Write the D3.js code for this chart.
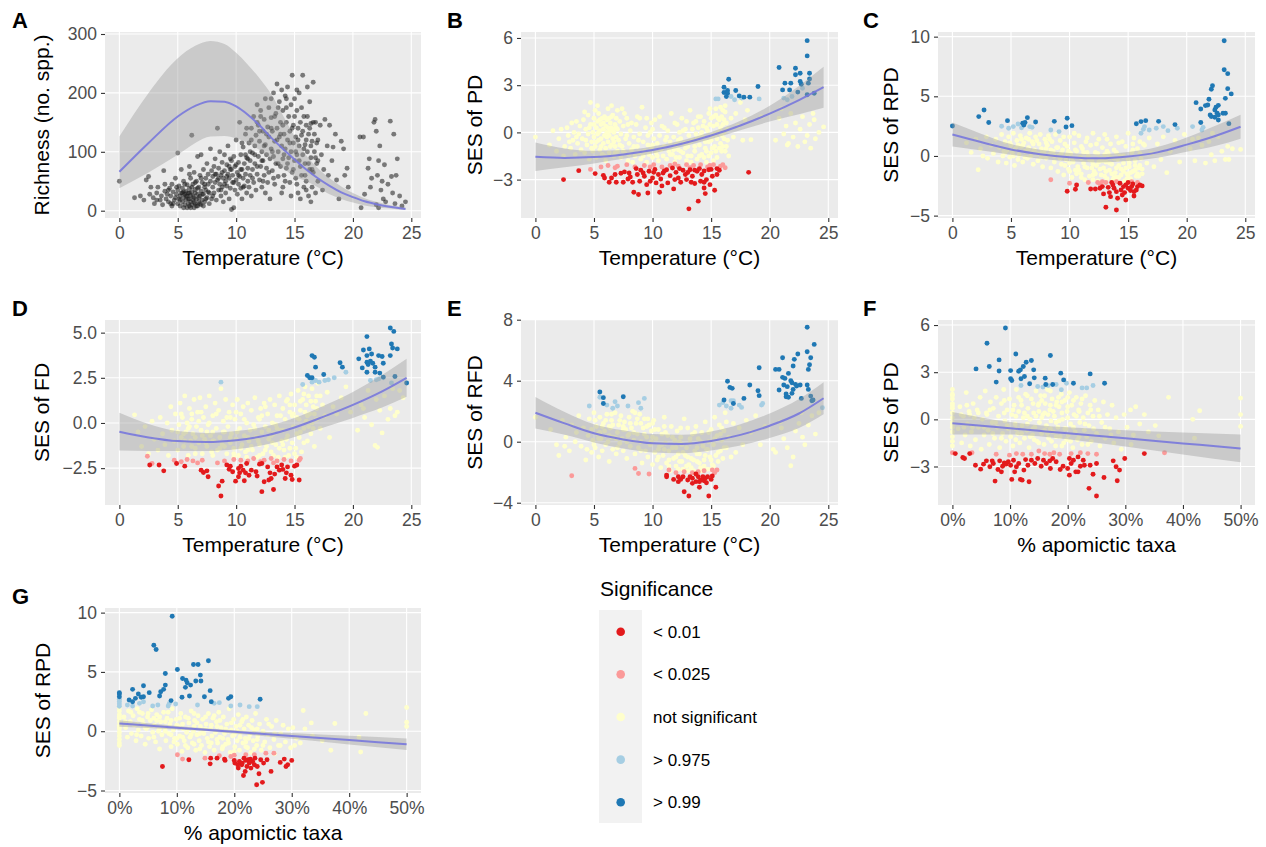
<!DOCTYPE html>
<html>
<head>
<meta charset="utf-8">
<script src="https://cdn.jsdelivr.net/npm/d3@7"></script>
<style>
  body { margin: 0; background: #fff; }
  text { font-family: "Liberation Sans", Arial, Helvetica, sans-serif; }
</style>
</head>
<body>
<div id="chart"></div>
<script>
// ---------- data ----------
const tempTicks = [0, 5, 10, 15, 20, 25];
const pctTicks = [0, 10, 20, 30, 40, 50];
const sigLabels = ["< 0.01", "< 0.025", "not significant", "> 0.975", "> 0.99"];

// A: richness vs temperature
const richA = [[0,50],[1.3,22],[1.8,25],[2.1,18],[2.3,52],[2.5,58],[2.6,28],[2.9,22],[3.0,12],[3.2,30],[3.3,40],[3.5,18],[3.6,25],[3.7,10],[3.8,68],[3.9,33],
[4.0,20],[4.1,28],[4.2,15],[4.3,38],[4.4,25],[4.5,8],[4.5,45],[4.6,32],[4.7,18],[4.8,22],[4.8,55],[4.9,28],[5.0,12],[5.0,35],[5.0,98],[5.1,20],[5.1,42],[5.2,25],[5.2,8],[5.3,30],[5.3,70],
[5.4,15],[5.4,38],[5.5,22],[5.5,50],[5.6,10],[5.6,28],[5.7,18],[5.7,33],[5.8,5],[5.8,25],[5.8,44],[5.9,12],[5.9,30],[6.0,20],[6.0,8],[6.0,38],[6.0,75],[6.1,15],[6.1,26],[6.1,55],[6.2,10],[6.2,32],[6.2,128],[6.3,18],[6.3,45],[6.4,5],[6.4,22],[6.4,65],[6.5,12],[6.5,30],[6.5,36],[6.6,20],[6.6,50],[6.7,8],[6.7,28],[6.7,92],[6.8,15],[6.8,40],[6.9,25],[6.9,60],[7.0,10],[7.0,33],[7.0,95],
[7.1,18],[7.1,48],[7.2,28],[7.2,70],[7.3,40],[7.3,15],[7.4,55],[7.4,35],[7.5,22],[7.5,80],[7.6,45],[7.6,62],[7.7,30],[7.8,50],[7.8,105],[7.9,20],[7.9,68],[8.0,40],[8.0,58],[8.1,75],[8.1,30],[8.2,48],[8.2,88],[8.3,62],[8.3,18],[8.4,140],[8.4,52],[8.5,35],[8.5,72],[8.6,45],[8.6,100],[8.7,60],[8.7,25],[8.8,82],[8.8,40],[8.9,55],[8.9,15],[9.0,68],[9.0,95],
[9.1,30],[9.1,50],[9.2,78],[9.2,42],[9.3,62],[9.3,110],[9.4,20],[9.4,55],[9.5,88],[9.5,38],[9.6,70],[9.6,2],[9.7,48],[9.7,60],[9.8,5],[9.8,92],[9.9,35],[9.9,75],[10.0,52],[10.0,120],[10.1,65],[10.1,28],[10.2,82],[10.2,45],[10.3,58],[10.3,150],[10.4,38],[10.4,95],[10.5,70],[10.5,20],[10.6,55],[10.6,108],[10.7,42],[10.7,80],[10.8,62],[10.8,130],[10.9,30],[10.9,90],[11.0,50],[11.0,72],
[11.1,115],[11.1,40],[11.2,85],[11.2,60],[11.3,140],[11.3,25],[11.4,98],[11.4,70],[11.5,48],[11.5,160],[11.6,80],[11.6,110],[11.7,35],[11.7,128],[11.8,62],[11.8,180],[11.9,92],[11.9,145],[12.0,52],[12.0,118],[12.1,75],[12.1,170],[12.2,100],[12.2,40],[12.3,135],[12.3,85],[12.4,155],[12.4,60],[12.5,112],[12.5,190],[12.6,95],[12.6,72],[12.7,142],[12.7,48],[12.8,125],[12.8,175],[12.9,88],[12.9,20],[13.0,105],[13.0,158],
[13.1,68],[13.1,135],[13.2,200],[13.2,92],[13.3,118],[13.3,45],[13.4,165],[13.4,80],[13.5,140],[13.5,215],[13.6,100],[13.6,58],[13.7,125],[13.7,185],[13.8,75],[13.8,150],[13.9,110],[13.9,205],[14.0,88],[14.0,170],[14.0,40],[14.1,130],[14.1,60],[14.2,195],[14.2,105],[14.3,150],[14.3,72],[14.4,120],[14.4,210],[14.5,90],[14.5,160],[14.6,48],[14.6,135],[14.7,180],[14.7,100],[14.8,65],[14.8,230],[14.9,145],[14.9,115],[15.0,85],[15.0,190],
[15.1,55],[15.1,125],[15.2,170],[15.2,95],[15.3,140],[15.3,30],[15.4,110],[15.4,200],[15.5,75],[15.5,150],[15.6,60],[15.6,128],[15.7,230],[15.7,95],[15.8,40],[15.8,160],[15.9,112],[15.9,80],[16.0,145],[16.0,50],[16.1,210],[16.1,100],[16.2,130],[16.2,25],[16.3,70],[16.3,185],[16.4,148],[16.4,90],[16.5,118],[16.5,40],[16.6,218],[16.6,65],[16.7,100],[16.8,150],[16.8,30],[16.9,80],[17.0,120],[17.0,50],
[17.2,145],[17.3,95],[17.4,35],[17.5,70],[17.6,155],[17.8,110],[17.9,60],[18.0,145],[18.2,85],[18.3,108],[18.5,130],[18.6,52],[18.8,20],[19.0,118],[19.2,105],[19.3,60],[19.5,72],[19.6,40],
[20.6,125],[20.7,5],[20.9,125],[21.0,28],[21.3,72],[21.4,88],[21.5,40],[21.6,55],[21.8,150],[21.9,155],[22.0,10],[22.0,135],[22.1,60],[22.2,85],[22.2,5],[22.3,110],[22.4,35],[22.5,50],[22.6,20],[22.7,78],[22.8,15],[23.0,45],[23.2,152],[23.3,58],[23.4,30],[23.5,130],[23.6,12],[23.7,60],[23.8,88],[24.0,25],[24.2,8],[24.5,15],
[4.2,35],[4.6,12],[4.9,40],[5.2,18],[5.4,30],[5.5,5],[5.6,45],[5.7,25],[5.9,20],[6.0,30],[6.1,5],[6.2,40],[6.3,25],[6.4,14],[6.5,48],[6.6,8],[6.7,38],[6.8,22],[6.9,12],[7.0,55],[7.1,28],[7.2,8],[7.4,20],[7.6,32],[7.7,12],[8.0,25],[8.2,62],[8.5,55],[8.8,65],[9.0,45],[9.2,58],[9.4,75],[9.6,85],[9.8,48],[10.0,78],[10.2,60],[10.4,70],[10.6,40],[10.8,95],[11.0,88],[11.2,100],[11.4,55],[11.6,95],[11.8,75],[12.0,135],[12.2,85],[12.4,110],[12.6,130],[12.8,65],[13.0,140],[13.1,100],[13.3,160],[13.5,120],[13.6,80],[13.8,130],[14.0,145],[14.1,95],[14.3,175],[14.4,80],[14.6,115],[14.8,140],[14.9,70],[15.0,160],[15.1,100],[15.3,120],[15.4,85],[15.6,175],[15.7,135],[15.8,105],[15.9,60],[16.0,120],[16.1,160],[16.2,80],[16.3,140],[16.4,110],[16.5,70],[16.6,150],[16.7,130],[16.8,90],[16.9,115],[17.0,85],[13.2,55],[14.2,50],[15.2,45],[16.0,35],[12.3,50],[13.9,30],[15.5,20],[16.4,15],[14.7,25],[12.5,30],[11.3,120],[10.9,140],[12.1,160],[13.6,175],[14.3,190],[15.2,205],[13.0,190],[11.8,150],[10.5,115],[9.5,70],[8.7,35],[7.3,45],[6.0,62],[5.5,32],[4.4,12],[3.9,45],[3.2,18],[2.7,40]];
// smooth rows: [x, fit, lower, upper]
const smoothA = [[0,66,38,126],[2.5,115,65,200],[5,160,95,259],[6.5,178,115,280],[7.8,186,126,288],[9,185,127,283],[10,177,123,268],[11,163,115,248],[12,145,103,225],[13,124,88,198],[14,105,73,162],[15,87,58,126],[16,70,50,94],[17,55,40,72],[18,42,28,55],[19,31,20,41],[20,23,14,30],[21,16,9,21],[22,11,6,15],[23,7,4,10],[24.5,3,1,6]];

// B: SES of PD vs temperature
const nsB = [[0,-0.3],[1.2,-0.8],[1.5,0.1],[1.8,-1.2],[2.0,-0.4],[2.2,0.2],[2.4,-1.5],[2.5,-0.9],[2.7,0.3],[2.8,-0.2],[3.0,-1.0],[3.1,0.6],[3.2,-0.5],[3.3,0.0],[3.4,-1.4],[3.5,0.7],[3.6,-0.7],[3.7,-0.1],[3.8,0.4],[3.9,-1.1],
[4.0,-0.4],[4.1,0.8],[4.2,-1.3],[4.3,0.2],[4.4,-0.8],[4.5,1.1],[4.5,-0.1],[4.6,-1.7],[4.7,0.5],[4.7,1.9],[4.8,-0.6],[4.9,0.0],[4.9,-1.2],[5.0,0.9],[5.0,-0.3],[5.1,1.4],[5.1,-0.9],[5.2,0.3],[5.2,-1.6],[5.3,-0.1],[5.3,0.7],[5.4,-0.5],[5.4,1.2],[5.5,0.1],[5.5,-1.1],[5.6,0.5],[5.6,-0.4],[5.7,-1.4],[5.7,0.9],[5.8,0.2],[5.8,-0.7],[5.9,1.0],[5.9,-0.2],[6.0,-1.0],[6.0,0.4],[6.0,-1.8],[6.1,0.0],[6.1,0.8],[6.2,-0.6],[6.2,1.5],[6.3,-0.2],[6.3,-1.3],[6.4,0.6],[6.4,0.1],[6.5,-0.8],[6.5,0.3],[6.6,-0.4],[6.6,1.1],[6.7,-1.5],[6.7,0.0],[6.8,0.5],[6.8,-0.9],[6.9,-0.3],[6.9,0.9],[7.0,-1.2],[7.0,0.2],
[7.1,-0.5],[7.2,0.7],[7.3,-1.6],[7.3,-0.1],[7.4,-0.9],[7.5,0.4],[7.6,-1.3],[7.7,-0.4],[7.8,0.9],[7.9,-1.8],[8.0,-0.7],[8.1,0.1],[8.2,-1.1],[8.3,-1.9],[8.4,-0.3],[8.5,-1.5],[8.6,0.5],[8.7,-0.9],[8.8,-1.3],[8.9,-0.1],[9.0,-1.7],[9.1,1.6],[9.2,-0.6],[9.3,-1.2],[9.4,0.3],[9.5,-1.9],[9.6,-0.8],[9.7,-1.4],[9.8,0.0],[9.9,-1.0],[10.0,-1.6],[10.1,-0.4],[10.2,0.8],[10.3,-1.3],[10.4,-0.7],[10.5,-1.8],[10.6,-0.2],[10.7,-1.1],[10.8,0.4],[10.9,-1.5],[11.0,-0.9],[11.1,-0.5],[11.2,-1.7],[11.3,0.1],[11.4,-1.2],[11.5,-0.6],[11.6,1.2],[11.7,-1.4],[11.8,-0.3],[11.9,-1.9],[12.0,-0.8],
[12.1,0.5],[12.2,-1.1],[12.3,-1.6],[12.4,-0.4],[12.5,0.9],[12.6,-1.3],[12.7,-0.7],[12.8,0.2],[12.9,-1.8],[13.0,-0.9],[13.1,-0.2],[13.2,1.4],[13.3,-1.5],[13.4,-0.5],[13.5,0.6],[13.6,-1.2],[13.7,-0.1],[13.8,-1.7],[13.9,0.3],[14.0,-0.8],[14.1,1.0],[14.2,-1.4],[14.3,-0.3],[14.4,0.7],[14.5,-1.0],[14.6,-1.9],[14.7,0.1],[14.8,-0.6],[14.9,1.5],[15.0,-1.3],[15.1,-0.2],[15.2,0.4],[15.3,-0.9],[15.4,1.1],[15.5,-1.6],[15.6,0.0],[15.7,0.8],[15.8,-0.7],[15.9,-1.2],[16.0,0.5],[16.1,-0.4],[16.2,1.3],[16.3,-0.9],[16.4,0.2],[16.5,-1.5],[15.2,-1.8],[14.4,-1.6],[13.3,-1.9],[15.8,1.6],[16.2,1.7],
[14.6,0.3],[15.0,0.9],[15.5,0.5],[15.9,1.0],[16.1,0.0],[14.2,0.0],[13.7,0.7],[12.3,0.0],[11.0,0.3],[10.0,0.2],[9.5,0.9],[8.7,1.0],[8.2,0.6],[7.6,1.2],[7.0,1.4],
[16.7,0.9],[16.9,-0.3],[17.1,1.2],[17.3,0.4],[17.5,1.9],[17.7,-0.5],[17.9,0.8],[18.1,1.4],[18.4,-0.46],[19.3,1.0],
[20.5,-0.5],[20.8,0.9],[21.0,1.5],[21.2,-0.1],[21.4,0.4],[21.6,-0.7],[21.8,1.2],[22.0,-0.3],[22.2,0.6],[22.4,-0.9],[22.6,0.2],[22.8,1.0],[23.0,-0.6],[23.2,-0.2],[23.4,0.5],[23.5,-1.0],[23.7,1.2],[23.9,-0.4],[24.2,0.0],[24.6,0.35],[23.8,0.8],[21.5,-0.8],
[4.3,-0.5],[4.6,0.3],[4.8,-1.0],[5.0,0.5],[5.2,-0.6],[5.4,0.0],[5.5,0.8],[5.6,-0.9],[5.8,0.6],[5.9,-1.5],[6.0,0.9],[6.1,-0.3],[6.2,0.3],[6.3,0.9],[6.4,-0.9],[6.5,1.0],[6.6,0.2],[6.7,-0.6],[6.8,-1.3],[6.9,0.3],[7.2,-0.8],[7.5,-1.2],[7.8,-0.2],[8.0,-1.4],[8.4,-0.9],[8.8,-0.5],[9.2,-1.5],[9.6,-0.2],[10.0,-0.8],[10.4,-1.5],[10.8,-1.0],[11.2,-0.3],[11.5,-1.4],[11.8,-1.1],[12.0,-1.6],[12.2,-0.5],[12.4,-1.2],[12.6,0.1],[12.8,-1.0],[13.0,-1.5],[13.2,-0.6],[13.4,0.2],[13.6,-0.9],[13.8,-0.4],[14.0,-1.5],[14.1,-0.2],[14.3,0.4],[14.5,-0.6],[14.6,-1.2],[14.8,-1.5],[14.9,0.5],[15.0,-0.5],[15.1,-1.0],[15.2,1.0],[15.3,-0.1],[15.4,-1.2],[15.5,-0.4],[15.6,0.9],[15.7,-1.0],[15.8,0.3],[15.9,-0.2],[16.0,-0.9],[16.1,0.8],[16.2,-1.2],[16.3,0.6],[16.4,-0.5],[16.0,1.4],[15.4,1.5],[14.8,1.2],[13.9,1.0],[12.9,0.7],[11.9,0.6],[10.6,1.0],[9.9,0.6],[8.9,0.9],[7.9,0.5],[7.4,1.5],[6.5,1.7],[5.3,1.7],[4.2,1.3],[3.5,-0.3],[2.9,-0.6]];
const p025B = [[4.7,-2.35],[5.6,-2.2],[6.2,-2.1],[7.0,-2.15],[7.8,-2.05],[8.5,-2.2],[9.3,-2.1],[10.1,-2.05],[10.8,-2.2],[11.5,-2.1],[12.2,-2.15],[12.9,-2.05],[13.5,-2.1],[14.1,-2.05],[14.7,-2.2],[15.2,-2.05],[15.8,-2.15],[16.2,-2.25],[6.8,-2.25],[9.8,-2.2],[11.9,-2.0],[13.2,-2.25],[14.9,-2.1],[16.0,-2.05]];
const p01B = [[2.4,-3.0],[3.7,-2.43],[5.1,-2.62],[5.8,-2.73],[5.9,-2.9],[6.5,-2.9],[6.8,-2.68],[6.9,-3.17],[7.5,-3.17],[7.6,-2.51],[8.0,-2.58],[8.1,-2.83],[8.4,-3.8],[8.7,-2.68],[8.8,-3.95],[8.9,-3.1],[9.2,-2.58],[9.3,-2.79],[9.5,-3.32],[9.6,-3.85],[9.7,-2.47],[9.8,-3.1],[10.0,-2.9],[10.1,-2.54],[10.3,-3.21],[10.5,-2.68],[10.6,-3.8],[10.7,-2.96],[10.9,-2.58],[11.2,-2.37],[11.3,-3.21],[11.5,-2.75],[11.7,-2.26],[11.8,-3.59],[12.0,-2.54],[12.2,-2.9],[12.4,-3.17],[12.6,-2.41],[12.8,-2.68],[12.9,-3.0],[13.1,-4.86],[13.2,-2.37],[13.4,-2.79],[13.6,-3.25],[13.8,-2.47],[13.9,-4.37],[14.1,-3.1],[14.2,-2.68],[14.4,-3.53],[14.5,-3.89],[14.6,-3.0],[14.8,-2.37],[14.9,-3.32],[15.1,-2.79],[15.3,-3.68],[15.5,-2.68],[15.7,-2.41],[18.2,-2.54],[7.9,-2.96],[8.3,-3.17],[10.8,-3.4],[11.9,-3.0],[13.3,-3.17],[14.4,-3.17],[6.3,-3.17],
[10.2,-2.35],[11.0,-2.45],[12.3,-2.3],[13.0,-2.55],[13.6,-2.4],[14.0,-2.3],[14.4,-2.45],[15.0,-2.35],[15.5,-2.3],[9.0,-2.4],[8.6,-2.3],[7.3,-2.6]];
const p975B = [[15.4,2.13],[15.6,2.13],[16.7,2.28],[17.0,2.07],[17.6,2.18],[19.1,2.13],[21.5,2.07],[21.9,2.28],[21.2,2.18],[22.8,2.81]];
const p99B = [[23.2,5.83],[23.2,4.86],[20.8,4.12],[22.2,4.08],[22.6,3.76],[23.4,3.76],[21.3,3.13],[21.8,3.13],[22.6,3.23],[22.2,3.66],[23.4,3.4],[21.1,2.7],[21.7,2.7],[22.7,3.06],[22.4,2.56],[23.2,2.39],[23.8,2.49],[23.3,3.13],[16.5,3.38],[16.1,2.87],[16.4,2.66],[16.1,2.54],[16.3,2.28],[17.1,2.66],[17.4,2.32],[17.8,2.24],[18.3,2.24],[19.0,2.92],[16.4,2.49]];
const smoothB = [[0,-1.55,-2.45,-0.65],[2.5,-1.62,-2.22,-1.02],[5,-1.57,-1.97,-1.17],[7.5,-1.4,-1.68,-1.12],[10,-1.12,-1.34,-0.9],[12.5,-0.72,-0.92,-0.52],[15,-0.2,-0.42,0.02],[17.5,0.44,0.14,0.74],[20,1.19,0.69,1.69],[22.5,2.05,1.15,2.95],[24.6,2.87,1.57,4.17]];

// C: SES of RPD vs temperature
const nsC = [[1.2,1.1],[1.6,0.3],[2.0,1.4],[2.2,-1.15],[2.4,0.6],[2.6,0.0],[2.9,1.6],[3.0,-0.2],[3.3,0.9],[3.5,0.2],[3.7,1.4],[3.9,-0.5],[4.0,0.7],[4.2,1.8],[4.3,0.0],[4.5,1.2],[4.6,-0.6],[4.7,0.5],[4.8,1.6],[4.9,-0.1],[5.0,0.9],[5.1,0.3],[5.2,1.9],[5.3,-0.8],[5.4,0.6],[5.5,1.3],[5.6,-0.3],[5.7,0.1],[5.8,1.7],[5.9,0.8],[6.0,-0.5],[6.1,1.1],[6.2,0.4],[6.3,1.5],[6.4,-0.2],[6.5,0.7],[6.6,1.9],[6.7,0.0],[6.8,1.2],[6.9,-0.7],[7.0,0.5],[7.1,1.6],[7.2,0.2],[7.3,-0.4],[7.4,1.0],[7.5,1.8],[7.6,0.6],[7.7,-0.9],[7.8,0.3],[7.9,1.4],[8.0,-0.2],[8.1,0.9],[8.2,1.7],[8.3,0.1],[8.4,-1.0],[8.5,1.2],[8.6,0.4],[8.7,-0.5],[8.8,1.8],[8.9,0.7],[9.0,-1.3],[9.1,0.0],[9.2,1.3],[9.3,-0.7],[9.4,0.5],[9.5,-1.6],[9.6,1.0],[9.7,-0.3],[9.8,0.8],[9.9,-1.1],[10.0,1.6],[10.1,0.2],[10.2,-1.8],[10.3,-0.5],[10.4,1.1],[10.5,-1.2],[10.6,0.4],[10.7,-0.9],[10.8,1.7],[10.9,-0.1],[11.0,-1.5],[11.1,0.6],[11.2,-0.6],[11.3,-2.0],[11.4,1.2],[11.5,-1.0],[11.6,0.0],[11.7,-1.7],[11.8,0.9],[11.9,-0.4],[12.0,1.9],[12.1,-1.3],[12.2,0.3],[12.3,-0.8],[12.4,-2.1],[12.5,1.4],[12.6,-0.2],[12.7,-1.6],[12.8,0.7],[12.9,-1.0],[13.0,1.8],[13.1,-0.5],[13.2,-1.9],[13.3,0.2],[13.4,-1.2],[13.5,1.0],[13.6,-0.7],[13.7,-2.0],[13.8,0.5],[13.9,-1.4],[14.0,1.6],[14.1,-0.3],[14.2,-1.8],[14.3,0.0],[14.4,-1.1],[14.5,1.2],[14.6,-0.6],[14.7,-2.1],[14.8,0.8],[14.9,-1.5],[15.0,1.9],[15.1,-0.9],[15.2,-1.9],[15.3,0.3],[15.4,-1.3],[15.5,1.5],[15.6,-0.4],[15.7,-1.7],[15.8,0.6],[15.9,-1.0],[16.0,1.2],[16.1,-0.2],[16.2,-1.5],[16.4,0.9],[16.6,-0.6],[16.8,1.5],[17.0,0.2],[17.2,-0.9],[17.5,1.0],[17.8,-0.3],[18.0,1.6],[18.3,-1.4],[18.6,0.4],[19.0,1.3],[19.4,-0.5],[19.8,1.8],[20.3,0.6],[20.7,-0.4],[21.0,1.5],[21.3,0.9],[21.6,-0.6],[21.9,1.2],[22.1,0.1],[22.4,-0.4],[22.7,1.6],[23.0,0.4],[23.3,-0.3],[23.5,0.8],[23.6,-0.3],[23.9,0.6],[24.6,0.55],[22.2,1.9],[20.5,1.4],
[5.3,0.5],[6.0,0.9],[6.8,0.3],[7.6,-0.1],[8.4,0.5],[9.2,-0.2],[10.0,-0.6],[10.6,-1.5],[11.2,0.3],[11.9,-1.0],[12.5,-0.5],[13.1,-1.3],[13.5,-0.1],[14.0,-1.0],[14.6,-1.3],[15.1,-0.6],[15.6,-1.2],[16.0,-0.8],[12.0,-1.6],[13.8,-1.8],[14.9,-1.9],[15.9,-1.7],[11.0,-0.2],[9.8,0.1],[8.0,1.1],[6.5,1.4],[4.4,0.4],
[4.5,0.3],[4.9,1.1],[5.2,0.0],[5.6,0.9],[5.9,1.4],[6.2,-0.1],[6.5,0.6],[6.9,1.0],[7.2,1.3],[7.6,0.2],[8.0,0.6],[8.3,1.4],[8.7,0.0],[9.0,0.7],[9.3,0.2],[9.6,-0.8],[9.9,0.4],[10.2,-0.2],[10.5,0.5],[10.8,-1.2],[11.0,0.8],[11.3,-0.9],[11.5,0.3],[11.7,-0.3],[12.0,-0.7],[12.2,-1.5],[12.4,0.2],[12.6,-1.1],[12.8,-0.4],[13.0,-1.7],[13.2,0.4],[13.4,-0.6],[13.6,-1.5],[13.8,-0.2],[14.0,0.3],[14.2,-0.8],[14.4,-1.6],[14.6,0.0],[14.8,-1.0],[15.0,-0.3],[15.2,-1.4],[15.4,0.5],[15.6,-0.8],[15.8,-1.5],[16.0,0.2],[16.2,-1.1],[16.3,1.0],[15.4,1.0],[14.2,1.1],[13.2,1.4],[12.3,1.0],[11.5,1.5],[10.4,1.9],[9.5,1.6],[13.0,0.1],[14.0,-1.8],[15.0,-1.6],[12.0,-2.0],[11.0,-1.8],[10.0,-1.3]];
const p025C = [[8.4,-2.0],[10.0,-2.29],[11.6,-2.23],[12.4,-2.23],[12.6,-2.35],[12.8,-2.15],[13.1,-2.23],[14.0,-2.15],[15.3,-2.15],[15.8,-2.23]];
const p01C = [[9.8,-2.96],[10.5,-2.79],[10.6,-2.43],[11.8,-2.77],[12.2,-2.77],[12.6,-2.71],[12.8,-2.57],[13.1,-4.3],[13.5,-3.41],[14.0,-4.53],[14.1,-3.55],[14.8,-3.69],[15.5,-3.35],
[13.7,-2.43],[13.8,-2.71],[14.3,-2.29],[14.4,-2.85],[14.6,-2.57],[14.7,-3.07],[14.8,-2.43],[15.0,-2.71],[15.2,-2.9],[15.3,-2.57],[15.5,-2.99],[15.7,-2.85],[15.8,-2.57],[14.0,-2.99],[13.3,-2.63],[13.6,-2.23],[14.5,-3.27],[15.0,-2.23],[15.4,-2.35],[16.0,-2.43],[16.2,-2.51],[13.4,-3.07],[12.9,-3.18]];
const p975C = [[4.2,2.49],[4.8,2.32],[5.2,2.46],[5.6,2.68],[5.9,2.37],[6.6,2.46],[6.8,2.4],[8.4,2.18],[9.1,2.04],[16.1,1.9],[16.3,2.23],[16.4,2.46],[16.8,2.18],[17.4,2.32],[18.0,2.46],[18.4,2.12],[19.2,2.32],[20.5,2.46],[21.3,2.18],[21.4,2.4]];
const p99C = [[0,2.51],[2.25,3.3],[2.7,3.85],[3.1,2.8],[4.7,2.96],[6.0,2.74],[6.1,2.6],[6.2,2.8],[6.4,3.21],[7.1,2.85],[8.7,2.9],[9.7,2.43],[9.8,3.16],[10.2,2.54],[15.7,2.7],[16.1,2.88],[16.5,2.96],[17.6,2.9],[19.0,2.63],[20.8,4.47],[21.2,3.94],[21.2,2.8],[21.6,4.22],[21.8,4.27],[21.9,4.75],[22.0,3.44],[22.1,3.3],[22.1,5.59],[22.2,5.89],[22.4,3.85],[22.5,4.08],[22.6,3.58],[22.7,4.24],[22.7,3.02],[22.7,3.44],[23.2,9.66],[23.2,7.23],[23.5,6.9],[23.3,4.83],[23.3,3.58],[23.5,5.64],[23.8,5.2],[23.6,2.71],[23.1,3.58],[22.4,3.24]];
const smoothC = [[0,1.8,0.8,2.8],[2.5,1.15,0.45,1.85],[5,0.55,0.1,1.0],[7.5,0.15,-0.23,0.53],[10,-0.1,-0.45,0.25],[12.5,-0.2,-0.55,0.15],[15,-0.05,-0.43,0.33],[17.5,0.3,-0.15,0.75],[20,0.95,0.35,1.55],[22.5,1.7,0.85,2.55],[24.6,2.45,1.45,3.45]];

// D: SES of FD vs temperature
const nsD = [[1.3,0.45],[1.6,-0.5],[1.9,-1.3],[2.2,-0.2],[2.5,-1.7],[2.8,0.1],[3.0,-0.9],[3.3,-1.5],[3.5,0.3],[3.7,-0.6],[3.9,-1.2],[4.1,0.0],[4.2,-1.8],[4.4,0.9],[4.5,-0.4],[4.7,-1.0],[4.8,0.5],[5.0,-1.5],[5.1,-0.1],[5.2,1.1],[5.3,-0.8],[5.4,0.3],[5.5,-1.3],[5.6,1.5],[5.7,-0.5],[5.8,0.0],[5.9,-1.8],[6.0,0.8],[6.1,-1.0],[6.2,0.2],[6.3,-0.6],[6.4,1.3],[6.5,-1.4],[6.6,-0.2],[6.7,0.6],[6.8,-1.1],[6.9,1.4],[7.0,-0.4],[7.1,-1.7],[7.2,0.3],[7.3,-0.9],[7.4,0.9],[7.5,-1.3],[7.6,-0.1],[7.7,1.5],[7.8,-0.7],[7.9,-1.6],[8.0,0.4],[8.1,-1.0],[8.2,1.1],[8.3,-0.3],[8.4,-1.5],[8.5,0.7],[8.6,-0.8],[8.7,1.9],[8.8,-1.2],[8.9,0.1],[9.0,-0.5],[9.1,1.3],[9.2,-1.7],[9.3,-0.2],[9.4,0.6],[9.5,-1.1],[9.6,-0.6],[9.7,1.0],[9.8,-1.4],[9.9,0.2],[10.0,-0.9],[10.1,1.3],[10.2,-1.8],[10.3,-0.3],[10.4,0.5],[10.5,-1.2],[10.6,0.9],[10.7,-0.7],[10.8,-1.6],[10.9,0.0],[11.0,1.1],[11.1,-1.0],[11.2,-0.4],[11.3,0.7],[11.4,-1.5],[11.5,-0.1],[11.6,1.4],[11.7,-0.8],[11.8,-1.9],[11.9,0.3],[12.0,-1.2],[12.1,0.8],[12.2,-0.5],[12.3,-1.7],[12.4,1.1],[12.5,-0.2],[12.6,-1.3],[12.7,0.5],[12.8,-0.9],[12.9,1.3],[13.0,-1.6],[13.1,0.0],[13.2,-0.6],[13.3,1.0],[13.4,-1.2],[13.5,0.4],[13.6,-1.9],[13.7,1.5],[13.8,-0.4],[13.9,-1.0],[14.0,0.8],[14.1,-1.5],[14.2,0.2],[14.3,1.2],[14.4,-0.7],[14.5,-1.8],[14.6,0.6],[14.7,1.6],[14.8,-1.1],[14.9,-0.2],[15.0,1.0],[15.1,-1.4],[15.2,0.3],[15.3,1.8],[15.4,-0.8],[15.5,0.7],[15.6,-1.6],[15.7,1.3],[15.8,-0.3],[15.9,2.0],[16.0,0.1],[16.1,-1.0],[16.2,1.5],[16.3,0.5],[16.4,-0.6],[16.5,1.9],[16.6,0.9],[16.7,-1.3],[16.8,1.2],[16.9,0.2],[17.0,2.2],[17.2,-0.3],[17.4,1.0],[17.6,0.4],[17.8,1.7],[18.0,-0.8],[18.3,0.9],[18.6,0.5],[19.0,1.4],[19.4,2.0],[19.8,0.6],[20.4,-0.4],[20.7,1.0],[21.0,0.3],[21.3,1.8],[21.6,-0.1],[21.9,-1.25],[22.1,-1.35],[22.3,0.7],[22.5,-0.55],[22.7,1.5],[23.0,0.2],[23.2,0.8],[23.4,1.9],[23.6,0.4],[23.8,0.6],[24.0,1.8],[24.3,1.4],[22.0,1.3],[20.9,0.8],
[5.5,-0.6],[6.2,-1.3],[7.0,0.6],[8.0,-0.5],[9.0,-1.3],[10.0,0.6],[11.0,-1.5],[12.0,0.2],[13.0,-0.7],[14.0,-1.2],[14.8,0.4],[15.5,-0.5],[16.0,1.0],[16.6,-0.3],[15.2,-1.9],[13.5,-0.3],[12.5,0.9],[9.5,0.3],[7.5,-0.5],[6.0,-0.2],[15.9,0.6],[16.9,1.5],[14.4,1.3],
[5.0,-0.5],[5.3,0.5],[5.6,-1.0],[5.9,-0.3],[6.2,0.5],[6.5,-0.8],[6.8,0.1],[7.1,-0.7],[7.4,-1.1],[7.7,0.0],[8.0,-1.0],[8.3,0.5],[8.6,-1.4],[8.9,-0.5],[9.2,0.3],[9.5,-0.8],[9.8,-1.7],[10.1,-0.5],[10.4,-1.4],[10.7,0.2],[11.0,-0.8],[11.3,-1.3],[11.6,-0.3],[11.9,-1.0],[12.2,0.4],[12.5,-1.5],[12.8,-0.4],[13.1,-1.1],[13.4,-0.1],[13.7,-1.4],[14.0,-0.4],[14.3,-0.9],[14.6,-1.4],[14.9,0.5],[15.2,-0.6],[15.5,1.2],[15.8,-1.1],[16.1,0.4],[16.4,1.2],[16.7,0.5],[15.0,-1.7],[14.2,-1.9],[13.2,-1.8],[12.0,-1.8],[10.9,-1.9],[9.8,-1.9],[8.0,-1.8],[6.5,-1.7],[16.2,-0.2],[15.4,0.2],[14.6,1.0],[13.8,0.4],[16.9,0.8],[17.2,1.5],[15.8,1.6],[16.5,0.0]];
const p025D = [[2.4,-1.84],[2.8,-2.24],[4.7,-2.06],[5.3,-2.15],[5.8,-2.02],[6.3,-2.1],[6.7,-2.21],[7.1,-2.06],[8.4,-2.21],[9.0,-2.1],[9.8,-2.02],[11.0,-2.1],[11.5,-1.97],[12.4,-2.06],[13.0,-1.97],[13.5,-2.1],[14.1,-2.02],[14.7,-2.1],[15.4,-2.06],[15.5,-1.97],[12.1,-2.15],[13.2,-2.21],[10.4,-2.06]];
const p01D = [[2.6,-2.33],[3.4,-2.33],[3.8,-2.65],[4.9,-2.24],[5.6,-2.39],[7.2,-2.74],[7.5,-2.65],[7.6,-2.98],[8.5,-3.49],[8.8,-3.22],[8.7,-4.04],[9.2,-2.32],[9.4,-2.56],[9.5,-2.39],[9.7,-2.7],[9.95,-3.22],[10.2,-2.52],[10.3,-2.76],[10.4,-2.39],[10.6,-2.61],[10.7,-3.2],[10.9,-2.24],[11.1,-2.89],[11.7,-2.7],[11.8,-2.94],[12.0,-2.28],[12.2,-2.24],[12.2,-3.8],[12.4,-3.25],[12.7,-2.43],[12.8,-3.16],[13.0,-3.07],[13.2,-3.68],[13.3,-2.83],[13.5,-2.43],[13.7,-2.61],[13.9,-2.33],[14.0,-2.57],[14.2,-3.07],[14.3,-2.76],[14.4,-2.43],[14.7,-2.89],[14.8,-3.13],[15.0,-2.39],[15.2,-2.33],[15.4,-3.16],[7.0,-2.61],[11.3,-2.61],[12.9,-2.76],[10.2,-2.98],[10.8,-2.76]];
const p975D = [[8.7,2.26],[15.7,2.13],[16.5,2.26],[16.8,2.35],[17.1,2.26],[17.6,2.35],[17.9,2.39],[18.4,2.5],[19.4,2.81],[21.5,2.35],[22.0,2.39],[22.2,2.44],[23.3,2.21],[22.6,2.5]];
const p99D = [[23.2,5.26],[23.5,5.07],[21.2,4.78],[20.9,4.04],[21.4,4.1],[23.3,4.37],[23.4,4.15],[23.8,4.1],[20.5,3.55],[21.2,3.73],[21.6,3.82],[22.2,3.73],[22.5,3.68],[20.8,3.05],[21.2,3.36],[21.3,3.24],[21.5,3.42],[21.7,3.31],[21.9,3.09],[22.6,3.31],[21.2,2.81],[21.9,2.81],[22.3,2.76],[23.2,3.73],[23.6,2.57],[24.6,2.21],[18.9,3.33],[19.1,3.09],[16.5,3.73],[16.7,3.64],[16.8,3.09],[16.1,2.63],[16.3,2.5],[16.5,2.5],[17.5,2.68],[22.6,2.54]];
const smoothD = [[0,-0.48,-1.53,0.57],[2.5,-0.8,-1.55,-0.05],[5,-1.0,-1.55,-0.45],[7.5,-1.05,-1.55,-0.55],[10,-0.95,-1.45,-0.45],[12.5,-0.7,-1.2,-0.2],[15,-0.25,-0.77,0.27],[17.5,0.35,-0.25,0.95],[20,1.0,0.28,1.72],[22.5,1.75,0.85,2.65],[24.6,2.5,1.45,3.55]];

// E: SES of RFD vs temperature
const nsE = [[0,1.6],[1.3,0.8],[1.8,-0.2],[2.0,-0.9],[2.3,1.4],[2.6,0.3],[2.9,-0.6],[3.1,1.1],[3.4,0.0],[3.7,1.7],[3.9,-0.3],[4.1,0.9],[4.3,-1.2],[4.5,0.4],[4.6,1.5],[4.8,-0.7],[4.9,0.1],[5.0,1.9],[5.1,-0.4],[5.2,1.0],[5.3,0.5],[5.4,-1.0],[5.5,1.6],[5.6,0.2],[5.7,-0.6],[5.8,1.2],[5.9,0.7],[6.0,-0.2],[6.1,1.8],[6.2,0.0],[6.3,-1.3],[6.4,0.9],[6.5,1.4],[6.6,-0.5],[6.7,0.3],[6.8,1.9],[6.9,-0.8],[7.0,0.6],[7.1,1.1],[7.2,-0.1],[7.3,1.7],[7.4,0.2],[7.5,-0.6],[7.6,1.3],[7.7,0.8],[7.8,-1.1],[7.9,0.4],[8.0,1.6],[8.1,-0.3],[8.2,0.9],[8.3,2.0],[8.4,0.1],[8.5,-0.8],[8.6,1.2],[8.7,0.5],[8.8,-0.4],[8.9,1.8],[9.0,0.0],[9.1,-1.4],[9.2,0.9],[9.3,1.5],[9.4,-0.6],[9.5,0.3],[9.6,-1.0],[9.7,1.1],[9.8,-0.2],[9.9,0.7],[10.0,-1.5],[10.1,1.4],[10.2,-0.7],[10.3,0.2],[10.4,-1.2],[10.5,0.8],[10.6,-0.3],[10.7,-1.7],[10.8,0.5],[10.9,-0.9],[11.0,1.6],[11.1,-0.1],[11.2,-1.4],[11.3,0.4],[11.4,-0.6],[11.5,-1.9],[11.6,1.0],[11.7,-0.4],[11.8,-1.1],[11.9,0.1],[12.0,-1.6],[12.1,0.7],[12.2,-0.8],[12.3,-1.3],[12.4,0.3],[12.5,-0.2],[12.6,-1.8],[12.7,1.5],[12.8,-0.9],[12.9,-0.4],[13.0,0.9],[13.1,-1.5],[13.2,-0.1],[13.3,-1.1],[13.4,0.5],[13.5,-1.9],[13.6,-0.6],[13.7,1.0],[13.8,-1.3],[13.9,0.2],[14.0,-0.8],[14.1,-1.7],[14.2,0.6],[14.3,-0.3],[14.4,-1.2],[14.5,1.3],[14.6,-0.5],[14.7,-1.8],[14.8,0.0],[14.9,-1.0],[15.0,0.8],[15.1,-1.5],[15.2,-0.2],[15.3,1.6],[15.4,-0.9],[15.5,0.4],[15.6,-1.3],[15.7,1.1],[15.8,-0.6],[15.9,0.1],[16.0,-1.1],[16.1,0.7],[16.2,1.9],[16.3,-0.4],[16.5,0.3],[16.7,-1.0],[16.9,1.2],[17.1,-0.7],[17.4,0.9],[17.7,-0.2],[18.0,1.4],[18.4,0.6],[18.8,1.7],[19.2,-0.2],[19.6,1.0],[20.3,-0.5],[20.5,-0.7],[20.9,1.3],[21.2,0.2],[21.5,-0.4],[21.8,-1.58],[22.0,-1.0],[22.2,0.7],[22.5,1.2],[22.8,0.3],[23.0,-0.2],[23.3,1.1],[23.6,1.7],[23.9,0.5],[24.2,1.9],[22.7,1.9],[21.0,0.9],
[5.5,0.6],[6.3,1.0],[7.0,-0.4],[8.0,0.5],[9.0,1.2],[10.0,0.3],[11.0,-0.5],[12.0,-0.4],[13.0,-1.0],[13.8,-0.4],[14.5,-0.9],[15.2,-1.6],[15.8,0.5],[12.5,-1.3],[11.4,-1.2],[10.5,-0.5],[9.5,1.0],[7.5,0.8],[6.5,0.3],[14.0,-1.4],[13.3,-1.7],
[4.8,0.8],[5.1,1.4],[5.4,0.2],[5.7,1.0],[6.0,1.4],[6.3,0.4],[6.6,1.1],[6.9,0.2],[7.2,1.4],[7.5,1.0],[7.8,0.0],[8.1,1.2],[8.4,0.6],[8.7,1.5],[9.0,-0.6],[9.3,0.5],[9.6,1.5],[9.9,0.0],[10.2,0.8],[10.5,-1.0],[10.8,-0.2],[11.1,0.6],[11.4,-1.6],[11.7,0.3],[12.0,-1.0],[12.3,0.0],[12.6,-0.7],[12.9,-1.6],[13.2,0.2],[13.5,-1.2],[13.8,-0.8],[14.1,0.0],[14.4,-1.6],[14.7,-0.5],[15.0,-1.2],[15.3,0.2],[15.6,-0.7],[15.9,0.9],[16.1,-0.4],[16.3,1.3],[15.0,-1.8],[14.2,-1.9],[13.0,-1.9],[12.2,-1.8],[14.8,0.6],[13.6,0.6],[12.4,0.9],[11.0,1.0],[10.0,1.2],[8.5,1.9],[6.5,1.8],[5.0,-0.2],[4.4,-0.5],[3.5,0.6],[2.5,-0.3]];
const p025E = [[3.1,-2.23],[8.5,-1.75],[8.8,-2.08],[9.7,-2.12],[11.4,-1.86],[12.0,-2.03],[12.7,-1.97],[13.4,-2.03],[13.9,-1.97],[14.4,-1.9],[15.1,-1.86],[15.5,-1.86],[15.3,-2.03]];
const p01E = [[11.2,-2.19],[11.8,-2.47],[12.2,-2.62],[12.7,-3.28],[13.1,-3.56],[12.6,-2.3],[13.0,-2.51],[13.4,-2.4],[13.7,-2.62],[13.9,-2.3],[14.1,-2.51],[14.0,-2.99],[14.4,-2.56],[14.5,-2.4],[14.6,-2.69],[14.8,-3.56],[15.0,-2.47],[15.1,-2.25],[15.4,-2.99],[12.2,-2.3],[12.4,-2.47],[13.2,-2.3],[13.7,-2.12],[14.3,-2.3],[14.7,-2.3],[14.0,-2.62],[13.4,-2.73],[11.2,-2.3]];
const p975E = [[4.6,2.34],[5.5,2.91],[6.1,2.4],[6.6,2.19],[6.8,2.62],[7.0,2.34],[7.9,2.34],[8.8,2.56],[9.0,2.19],[9.3,2.84],[15.7,2.4],[16.0,2.56],[16.3,2.34],[16.7,2.19],[16.9,2.69],[17.4,2.4],[17.6,2.25],[19.3,2.4],[19.4,2.51],[24.5,2.23],[16.7,2.69]];
const p99E = [[23.2,7.5],[23.8,6.38],[23.2,5.9],[22.4,5.75],[23.5,5.5],[23.4,5.05],[22.1,5.4],[22.0,4.96],[21.1,5.5],[23.3,4.74],[20.5,4.74],[20.8,4.74],[19.1,4.85],[21.6,4.48],[21.1,4.22],[21.3,4.15],[21.8,4.0],[21.9,3.87],[22.2,3.76],[22.3,3.65],[21.2,3.72],[21.5,3.61],[22.6,3.72],[23.2,3.72],[23.3,3.43],[22.0,3.43],[20.8,3.39],[21.4,2.95],[21.6,2.91],[21.9,3.17],[22.7,2.84],[23.5,2.99],[23.6,2.69],[23.7,2.73],[21.4,3.13],[16.4,3.96],[16.6,3.56],[16.8,3.5],[18.3,3.72],[19.0,3.34],[19.1,3.02],[16.1,2.73],[17.8,2.84],[16.9,2.51],[5.5,3.26],[5.8,2.89],[7.5,2.95],[5.8,2.51]];
const smoothE = [[0,1.9,0.87,2.93],[2.5,1.2,0.45,1.95],[5,0.55,-0.05,1.15],[7.5,0.15,-0.45,0.75],[10,-0.1,-0.7,0.5],[12.5,-0.15,-0.75,0.45],[15,0.05,-0.57,0.67],[17.5,0.45,-0.25,1.15],[20,1.05,0.25,1.85],[22.5,1.85,0.9,2.8],[24.6,2.85,1.8,3.9]];

// F: SES of PD vs % apomictic taxa
const nsF = [[0,1.9],[0,1.6],[0,1.3],[0,1.0],[0,0.7],[0,0.4],[0,0.1],[0,-0.2],[0,-0.5],[0,-0.8],[0,-1.1],[0,-1.4],[0,-1.7],[0,1.5],[0,-0.35],[0,0.85],
[1.0,-0.6],[1.3,0.8],[1.6,-1.5],[1.9,0.2],[2.2,-1.0],[2.4,1.7],[2.6,-0.3],[2.9,0.5],[3.1,-1.7],[3.3,-0.8],[3.6,1.0],[3.8,0.1],[4.0,-1.3],[4.3,0.6],[4.5,-0.5],[4.8,1.4],[5.0,-1.9],[5.2,0.0],[5.5,-1.0],[5.7,1.8],[5.9,0.4],[6.2,-0.7],[6.4,-1.6],[6.6,1.1],[6.9,-0.2],[7.1,0.7],[7.3,-1.2],[7.6,1.4],[7.8,-0.5],[8.0,0.2],[8.2,-1.8],[8.5,1.0],[8.7,-0.9],[8.9,1.9],[9.1,-0.1],[9.3,-1.4],[9.5,0.6],[9.7,-0.6],[9.9,1.3],[10.1,-1.1],[10.3,0.3],[10.5,-1.7],[10.7,0.9],[10.9,-0.3],[11.1,1.9],[11.3,-0.9],[11.5,0.5],[11.7,-1.5],[11.9,1.2],[12.1,-0.4],[12.3,0.1],[12.5,-1.2],[12.7,1.6],[12.9,-0.7],[13.1,0.7],[13.3,-1.8],[13.5,0.0],[13.7,1.3],[13.9,-1.0],[14.1,0.4],[14.3,-0.5],[14.5,1.8],[14.7,-1.4],[14.9,0.9],[15.1,-0.2],[15.3,1.5],[15.5,-0.9],[15.7,0.3],[15.9,-1.6],[16.1,1.0],[16.3,-0.4],[16.5,1.9],[16.7,-1.2],[16.9,0.6],[17.1,-0.1],[17.3,1.3],[17.5,-0.8],[17.7,0.2],[17.9,-1.7],[18.1,1.1],[18.3,-0.5],[18.5,0.8],[18.7,-1.1],[18.9,1.6],[19.1,0.0],[19.3,-1.5],[19.5,1.2],[19.7,-0.6],[19.9,0.5],[20.1,-1.0],[20.3,1.7],[20.5,-0.3],[20.7,0.9],[20.9,-1.8],[21.1,0.3],[21.3,-0.8],[21.5,1.4],[21.7,-1.3],[21.9,0.6],[22.1,-0.2],[22.3,1.0],[22.5,-1.6],[22.7,0.1],[22.9,-0.7],[23.1,1.5],[23.3,-1.1],[23.5,0.4],[23.7,-0.4],[23.9,0.9],[24.1,-1.4],[24.4,0.2],[24.7,1.2],[25.0,-0.9],[25.3,0.6],[25.6,-1.7],[25.9,-0.2],[26.2,1.1],[26.5,-1.2],[26.9,0.3],[27.3,-0.6],[27.7,0.9],[28.0,-1.5],[28.4,0.1],[28.8,-0.8],[29.3,-1.9],[29.8,0.3],[30.3,-0.5],[30.9,0.6],[31.4,-1.0],[31.8,0.8],[32.5,-0.3],[33.3,0.3],[34.0,-0.8],[35.2,-0.4],[35.8,-1.05],[37.5,1.4],[41.7,0.0],[42.0,-1.2],[42.9,0.55],[50,1.35],[50,0.3],[50,-0.45],[31.0,-1.6],
[12.0,0.9],[13.0,-0.3],[14.0,1.0],[15.0,0.5],[16.0,-0.7],[17.0,0.9],[18.0,-0.2],[19.0,0.4],[20.0,0.8],[21.0,-0.5],[22.0,0.5],[15.5,0.1],[16.6,0.3],[18.4,1.4],[14.2,-1.3],[17.2,-1.4],[19.8,-1.3],[11.0,0.2],[9.0,0.4],[7.0,-0.9],[6.0,0.3],[3.0,0.3],[2.0,-0.5],
[1.5,0.3],[2.5,0.9],[3.5,-0.5],[4.5,0.4],[5.5,-0.5],[6.5,0.6],[7.5,-0.2],[8.5,-1.2],[9.5,-0.4],[10.5,0.6],[11.0,-1.3],[11.5,1.4],[12.0,-0.9],[12.5,0.4],[13.0,1.5],[13.5,-1.1],[14.0,-0.6],[14.5,0.2],[15.0,-1.5],[15.5,1.2],[16.0,0.4],[16.5,-0.9],[17.0,1.8],[17.5,0.5],[18.0,-1.1],[18.5,-0.1],[19.0,1.1],[19.5,-0.6],[20.0,0.1],[20.5,-1.4],[21.0,1.2],[21.5,0.2],[22.0,-1.1],[22.5,1.3],[23.0,-0.3],[23.5,-1.6],[24.0,0.6],[24.5,-0.6],[25.5,0.2],[26.5,-0.5],[27.5,-1.0],[19.0,-1.7],[17.0,-0.6],[15.0,1.0],[13.0,0.2],[11.0,-0.6],[9.0,1.2],[18.0,0.9],[20.0,1.4],[16.0,1.5]];
const p025F = [[0,-2.13],[3.4,-2.13],[7.6,-2.22],[9.9,-2.28],[11.1,-2.18],[12.2,-2.22],[15.0,-2.01],[16.0,-2.18],[17.6,-2.13],[18.6,-2.22],[20.6,-2.18],[22.2,-2.13],[23.5,-2.18],[25.0,-2.22],[36.8,-2.13],[13.7,-2.22],[16.9,-2.22]];
const p01F = [[0.5,-2.18],[1.8,-2.43],[2.1,-2.49],[3.0,-2.18],[4.0,-2.92],[4.9,-3.17],[5.4,-2.85],[5.9,-2.64],[6.5,-3.02],[6.9,-2.64],[7.1,-2.81],[7.4,-3.93],[7.9,-3.19],[8.2,-2.64],[8.5,-3.34],[8.7,-2.98],[9.0,-2.77],[9.3,-2.85],[9.7,-2.7],[10.1,-2.92],[10.3,-3.82],[10.6,-2.6],[10.8,-3.34],[11.1,-3.02],[11.5,-2.81],[11.8,-3.82],[12.1,-3.87],[12.4,-3.23],[12.7,-2.56],[13.1,-2.92],[13.3,-3.97],[13.7,-2.6],[14.3,-2.81],[14.8,-2.49],[15.4,-2.98],[15.8,-2.6],[16.3,-2.81],[16.9,-2.64],[17.0,-3.13],[17.4,-2.49],[18.0,-2.7],[18.7,-3.19],[19.2,-2.98],[20.0,-3.13],[20.3,-3.55],[20.6,-2.81],[21.0,-2.6],[21.4,-3.34],[21.8,-3.34],[22.2,-2.98],[22.7,-2.6],[22.9,-2.92],[23.7,-4.39],[23.9,-2.92],[24.4,-3.49],[25.0,-4.88],[25.0,-2.81],[26.3,-3.7],[27.9,-2.64],[28.4,-3.02],[28.6,-3.91],[29.0,-3.23],[29.9,-2.49],[33.3,-2.18],[21.8,-2.39],[20.3,-2.49]];
const p975F = [[11.9,2.15],[14.8,2.09],[16.6,2.15],[18.9,1.88],[19.8,2.3],[22.5,2.0],[23.3,2.0],[24.4,2.15],[18.0,2.22],[15.7,2.05]];
const p99F = [[9.2,5.81],[6.0,4.84],[11.0,4.16],[17.0,4.06],[8.1,3.78],[13.7,3.74],[12.8,3.63],[4.1,3.21],[6.4,3.36],[12.3,3.36],[8.1,3.08],[10.1,3.1],[11.5,3.06],[11.8,3.15],[14.1,3.15],[18.8,2.94],[23.9,2.89],[10.1,2.58],[11.9,2.58],[12.5,2.73],[14.2,2.64],[16.1,2.62],[19.3,2.51],[7.6,2.37],[10.3,2.47],[13.4,2.26],[16.2,2.22],[17.4,2.22],[21.0,2.3],[26.4,2.3]];
const smoothF = [[0,-0.25,-0.97,0.47],[10,-0.57,-0.97,-0.17],[15,-0.73,-1.08,-0.38],[20,-0.89,-1.27,-0.51],[30,-1.21,-1.73,-0.69],[40,-1.53,-2.23,-0.83],[50,-1.85,-2.73,-0.97]];

// G: SES of RPD vs % apomictic taxa
const nsG = [[0,2.0],[0,1.7],[0,1.4],[0,1.1],[0,0.8],[0,0.5],[0,0.2],[0,-0.1],[0,-0.4],[0,-0.7],[0,-1.0],[0,-1.2],[0,1.25],[0,0.35],
[0.8,1.2],[1.1,0.3],[1.4,-0.5],[1.6,1.7],[1.9,0.8],[2.1,-0.2],[2.4,1.3],[2.6,0.5],[2.9,-0.8],[3.1,1.9],[3.3,0.1],[3.5,1.0],[3.8,-0.4],[4.0,1.5],[4.2,0.6],[4.5,-1.1],[4.7,0.2],[4.9,1.2],[5.1,-0.6],[5.4,0.9],[5.6,1.8],[5.8,-0.1],[6.1,0.5],[6.3,-0.9],[6.5,1.4],[6.8,0.0],[7.0,-1.5],[7.2,0.8],[7.4,-0.3],[7.7,1.6],[7.9,0.3],[8.1,-0.8],[8.3,1.1],[8.6,-0.2],[8.8,0.6],[9.0,-1.3],[9.2,1.9],[9.4,0.1],[9.6,-0.6],[9.9,1.0],[10.1,-1.1],[10.3,0.4],[10.5,-0.4],[10.7,1.5],[10.9,-1.7],[11.1,0.2],[11.3,-0.8],[11.5,1.2],[11.7,-0.1],[11.9,-1.4],[12.1,0.7],[12.3,-0.5],[12.5,1.7],[12.7,-1.0],[12.9,0.0],[13.1,0.9],[13.3,-1.6],[13.5,-0.3],[13.7,1.3],[13.9,-0.8],[14.1,0.4],[14.3,-1.2],[14.5,1.0],[14.7,-0.2],[14.9,-1.8],[15.1,0.6],[15.3,-0.6],[15.5,1.5],[15.7,-1.3],[15.9,0.2],[16.1,-0.4],[16.3,1.1],[16.5,-1.6],[16.7,-0.1],[16.9,0.8],[17.1,-1.0],[17.3,1.6],[17.5,-0.5],[17.7,0.3],[17.9,-1.5],[18.1,1.2],[18.3,-0.2],[18.5,-1.1],[18.7,0.6],[18.9,-0.7],[19.1,1.9],[19.3,-1.8],[19.5,0.1],[19.7,-0.4],[19.9,1.0],[20.1,-1.3],[20.3,0.4],[20.5,-0.8],[20.7,1.4],[20.9,-1.6],[21.1,-0.1],[21.3,0.8],[21.5,-1.0],[21.7,0.2],[21.9,-0.6],[22.1,1.2],[22.3,-1.4],[22.5,0.5],[22.7,-0.3],[22.9,-1.8],[23.1,0.9],[23.3,-0.8],[23.5,0.1],[23.7,1.5],[23.9,-1.2],[24.1,-0.4],[24.4,0.6],[24.7,-1.6],[25.0,0.0],[25.3,-0.9],[25.6,1.0],[25.9,-0.3],[26.2,-1.4],[26.5,0.4],[26.9,-0.7],[27.3,0.9],[27.7,-1.2],[28.1,-0.2],[28.5,0.5],[28.9,-0.9],[29.4,0.2],[29.8,-1.4],[30.2,0.3],[30.8,-0.6],[31.5,-1.0],[32.0,1.75],[32.3,0.2],[33.4,0.7],[33.6,-0.4],[35.3,-0.8],[36.8,-1.6],[37.5,0.65],[41.7,-0.5],[42.0,-1.75],[42.9,1.5],[50,2.0],[50,0.75],[50,0.4],[30.5,-1.2],[27.0,-1.9],
[3.0,0.6],[5.0,0.4],[6.0,1.1],[8.0,0.8],[10.0,0.5],[11.0,-0.5],[13.0,0.4],[14.0,-0.2],[15.0,0.2],[16.0,-1.0],[17.0,0.4],[18.0,-0.6],[19.0,0.0],[20.0,-0.3],[21.0,0.5],[22.0,-0.9],[24.0,-0.7],[12.0,0.2],[9.0,-0.3],[7.0,0.2],
[1.0,0.8],[2.0,1.6],[3.0,-0.3],[4.0,0.9],[5.0,1.5],[6.0,-0.5],[7.0,1.2],[8.0,0.0],[9.0,0.9],[10.0,-0.6],[10.5,1.1],[11.0,0.6],[11.5,-1.2],[12.0,1.1],[12.5,-0.3],[13.0,-1.1],[13.5,0.7],[14.0,-1.5],[14.5,0.1],[15.0,1.2],[15.5,-0.9],[16.0,0.5],[16.5,1.3],[17.0,-0.7],[17.5,0.9],[18.0,-1.3],[18.5,0.2],[19.0,-1.0],[19.5,0.7],[20.0,-1.7],[20.5,0.0],[21.0,-0.5],[21.5,1.0],[22.0,-1.3],[22.5,-0.6],[23.0,0.3],[23.5,-1.5],[24.0,0.2],[25.0,-1.2],[26.0,0.6],[27.0,-0.2],[28.0,-1.2],[6.5,0.9],[8.5,1.6],[9.5,-0.9],[13.0,1.5],[4.5,0.3],[3.5,1.6]];
const p025G = [[10.1,-1.99],[11.0,-2.35],[14.9,-2.27],[17.4,-2.07],[19.4,-2.13],[22.0,-1.99],[25.5,-1.85],[26.9,-1.85],[20.0,-2.02],[23.5,-1.99]];
const p01G = [[7.5,-2.97],[12.1,-2.41],[15.9,-2.27],[15.8,-2.75],[17.0,-2.27],[18.3,-2.35],[18.4,-2.46],[20.0,-2.46],[20.1,-2.69],[20.6,-2.83],[20.9,-2.55],[21.3,-2.83],[21.6,-3.73],[21.7,-2.27],[21.9,-3.39],[22.2,-2.97],[22.4,-2.41],[22.6,-2.69],[22.9,-3.11],[23.2,-2.55],[23.5,-2.83],[23.6,-2.27],[23.9,-4.51],[24.0,-2.97],[24.3,-3.59],[24.6,-2.41],[24.9,-4.31],[25.1,-2.69],[25.7,-2.41],[26.4,-3.39],[28.0,-2.63],[28.7,-2.35],[29.0,-2.97],[29.3,-2.83],[30.0,-2.46],[20.7,-3.11],[21.4,-2.69],[22.0,-2.46],[22.8,-2.35]];
const p975G = [[0,2.7],[0,2.5],[0,2.3],[0,2.1],[1.4,2.21],[2.3,2.13],[3.5,2.35],[4.2,2.49],[5.8,2.13],[6.7,2.21],[8.7,2.35],[9.8,2.3],[13.6,2.21],[16.5,2.35],[17.4,2.41],[19.4,2.13],[21.0,2.21],[22.6,2.07],[24.0,2.07],[8.5,2.13]];
const p99G = [[9.2,9.69],[6.0,7.25],[6.4,6.89],[15.5,5.94],[12.9,5.63],[13.7,5.63],[10.1,5.21],[8.0,4.87],[11.0,4.45],[14.1,4.73],[11.6,4.31],[13.3,4.23],[14.2,4.23],[8.0,3.89],[11.8,4.09],[12.4,3.89],[11.5,3.7],[4.2,3.84],[7.7,3.53],[2.3,3.53],[0,3.25],[0,3.14],[3.3,3.14],[5.2,3.25],[7.2,3.33],[15.8,3.42],[12.2,2.97],[10.9,2.86],[14.8,2.91],[7.0,2.97],[4.2,2.91],[2.8,2.77],[1.7,2.63],[2.3,2.49],[9.0,2.58],[19.0,2.77],[19.4,2.91],[24.5,2.69],[16.0,2.49],[3.8,2.86],[0,2.91]];
const smoothG = [[0,0.65,0.38,0.92],[10,0.3,0.15,0.45],[15,0.13,0.01,0.25],[20,-0.05,-0.19,0.09],[30,-0.4,-0.64,-0.16],[40,-0.75,-1.11,-0.39],[50,-1.1,-1.58,-0.62]];

// ---------- drawing ----------
const W = 1266, H = 847;
const sigColors = ["#E31A1C", "#FB9A99", "#FFFFCC", "#A6CEE3", "#1F78B4"];
const tempLab = "Temperature (\u00B0C)", pctLab = "% apomictic taxa";
const pctFmt = d => d + "%";

const svg = d3.select("#chart").append("svg")
    .attr("width", W)
    .attr("height", H);

const cols = [[105, 421], [521, 838], [938, 1255]];
const rows = [[32, 218], [320, 505], [608, 793]];
const tempLim = [-1.23, 25.83], pctLim = [-2.5, 52.5];

function sigLayers(ns, p025, p975, p01, p99) {
    // drawn in this order so the significant points sit on top
    return [
        { data: ns, fill: sigColors[2] },
        { data: p025, fill: sigColors[1] },
        { data: p975, fill: sigColors[3] },
        { data: p01, fill: sigColors[0] },
        { data: p99, fill: sigColors[4] }
    ];
}

const panels = [
    { letter: "A", col: 0, row: 0, xlim: tempLim, ylim: [-12.4, 303.4], xticks: tempTicks, yticks: [0, 100, 200, 300],
      xfmt: d3.format("d"), yfmt: d3.format("d"), xlab: tempLab, ylab: "Richness (no. spp.)", titleX: 49,
      layers: [{ data: richA, fill: "#1a1a1a", opacity: 0.55 }], smooth: smoothA },
    { letter: "B", col: 1, row: 0, xlim: tempLim, ylim: [-5.44, 6.38], xticks: tempTicks, yticks: [-3, 0, 3, 6],
      xfmt: d3.format("d"), yfmt: d3.format("d"), xlab: tempLab, ylab: "SES of PD", titleX: 482,
      layers: sigLayers(nsB, p025B, p975B, p01B, p99B), smooth: smoothB },
    { letter: "C", col: 2, row: 0, xlim: tempLim, ylim: [-5.2, 10.39], xticks: tempTicks, yticks: [-5, 0, 5, 10],
      xfmt: d3.format("d"), yfmt: d3.format("d"), xlab: tempLab, ylab: "SES of RPD", titleX: 898,
      layers: sigLayers(nsC, p025C, p975C, p01C, p99C), smooth: smoothC },
    { letter: "D", col: 0, row: 1, xlim: tempLim, ylim: [-4.54, 5.7], xticks: tempTicks, yticks: [-2.5, 0, 2.5, 5],
      xfmt: d3.format("d"), yfmt: d3.format(".1f"), xlab: tempLab, ylab: "SES of FD", titleX: 49,
      layers: sigLayers(nsD, p025D, p975D, p01D, p99D), smooth: smoothD },
    { letter: "E", col: 1, row: 1, xlim: tempLim, ylim: [-4.15, 7.98], xticks: tempTicks, yticks: [-4, 0, 4, 8],
      xfmt: d3.format("d"), yfmt: d3.format("d"), xlab: tempLab, ylab: "SES of RFD", titleX: 482,
      layers: sigLayers(nsE, p025E, p975E, p01E, p99E), smooth: smoothE },
    { letter: "F", col: 2, row: 1, xlim: pctLim, ylim: [-5.45, 6.32], xticks: pctTicks, yticks: [-3, 0, 3, 6],
      xfmt: pctFmt, yfmt: d3.format("d"), xlab: pctLab, ylab: "SES of PD", titleX: 898,
      layers: sigLayers(nsF, p025F, p975F, p01F, p99F), smooth: smoothF },
    { letter: "G", col: 0, row: 2, xlim: pctLim, ylim: [-5.21, 10.39], xticks: pctTicks, yticks: [-5, 0, 5, 10],
      xfmt: pctFmt, yfmt: d3.format("d"), xlab: pctLab, ylab: "SES of RPD", titleX: 50,
      layers: sigLayers(nsG, p025G, p975G, p01G, p99G), smooth: smoothG }
];

function drawPanel(p) {
    const [x0, x1] = cols[p.col];
    const [y0, y1] = rows[p.row];
    const g = svg.append("g");

    const x = d3.scaleLinear().domain(p.xlim).range([x0, x1]);
    const y = d3.scaleLinear().domain(p.ylim).range([y1, y0]);

    // panel background + major grid
    g.append("rect")
        .attr("x", x0).attr("y", y0)
        .attr("width", x1 - x0).attr("height", y1 - y0)
        .attr("fill", "#EBEBEB");
    g.selectAll(".vgrid").data(p.xticks).enter().append("line")
        .attr("x1", d => x(d)).attr("x2", d => x(d))
        .attr("y1", y0).attr("y2", y1)
        .attr("stroke", "#fff").attr("stroke-width", 1.1);
    g.selectAll(".hgrid").data(p.yticks).enter().append("line")
        .attr("x1", x0).attr("x2", x1)
        .attr("y1", d => y(d)).attr("y2", d => y(d))
        .attr("stroke", "#fff").attr("stroke-width", 1.1);

    // points
    p.layers.forEach(layer => {
        g.append("g").selectAll("circle")
            .data(layer.data)
            .enter()
            .append("circle")
            .attr("cx", d => x(d[0]))
            .attr("cy", d => y(d[1]))
            .attr("r", 2.45)
            .attr("fill", layer.fill)
            .attr("fill-opacity", layer.opacity || 1);
    });

    // smoother: ribbon then line
    const band = d3.area()
        .x(d => x(d[0]))
        .y0(d => y(d[2]))
        .y1(d => y(d[3]))
        .curve(d3.curveMonotoneX);
    g.append("path")
        .datum(p.smooth)
        .attr("d", band)
        .attr("fill", "#999999")
        .attr("fill-opacity", 0.4);
    const fit = d3.line()
        .x(d => x(d[0]))
        .y(d => y(d[1]))
        .curve(d3.curveMonotoneX);
    g.append("path")
        .datum(p.smooth)
        .attr("d", fit)
        .attr("fill", "none")
        .attr("stroke", "#7878DC")
        .attr("stroke-opacity", 0.9)
        .attr("stroke-width", 2);

    // axes
    const xAxis = g.append("g")
        .attr("transform", `translate(0,${y1})`)
        .call(d3.axisBottom(x).tickValues(p.xticks).tickFormat(p.xfmt).tickSize(4).tickPadding(5));
    const yAxis = g.append("g")
        .attr("transform", `translate(${x0},0)`)
        .call(d3.axisLeft(y).tickValues(p.yticks).tickFormat(p.yfmt).tickSize(4).tickPadding(4));
    [xAxis, yAxis].forEach(a => {
        a.select(".domain").remove();
        a.selectAll(".tick line").attr("stroke", "#333333").attr("stroke-width", 1.1);
        a.selectAll(".tick text")
            .attr("fill", "#4D4D4D")
            .style("font-size", "17.5px")
            .style("font-family", "'Liberation Sans', Arial, sans-serif");
    });

    // titles
    g.append("text")
        .attr("x", (x0 + x1) / 2)
        .attr("y", y1 + 46.5)
        .attr("text-anchor", "middle")
        .style("font-size", "21px")
        .text(p.xlab);
    g.append("text")
        .attr("transform", `translate(${p.titleX},${(y0 + y1) / 2}) rotate(-90)`)
        .attr("text-anchor", "middle")
        .style("font-size", "21px")
        .text(p.ylab);
    g.append("text")
        .attr("x", [12, 447, 863][p.col])
        .attr("y", [28, 316, 604][p.row])
        .style("font-size", "22px")
        .style("font-weight", "bold")
        .text(p.letter);
}

panels.forEach(drawPanel);

// legend
const legend = svg.append("g");
legend.append("text")
    .attr("x", 600)
    .attr("y", 596)
    .style("font-size", "21px")
    .text("Significance");
legend.append("rect")
    .attr("x", 599).attr("y", 610)
    .attr("width", 43).attr("height", 213)
    .attr("fill", "#F2F2F2");
const keyY = d3.scalePoint().domain(sigLabels).range([631.7, 802.3]);
legend.selectAll("circle")
    .data(sigLabels)
    .enter()
    .append("circle")
    .attr("cx", 620.7)
    .attr("cy", d => keyY(d))
    .attr("r", 4.3)
    .attr("fill", (d, i) => sigColors[i]);
legend.selectAll(".lab")
    .data(sigLabels)
    .enter()
    .append("text")
    .attr("x", 653)
    .attr("y", d => keyY(d) + 6)
    .style("font-size", "17px")
    .text(d => d);
</script>
</body>
</html>
